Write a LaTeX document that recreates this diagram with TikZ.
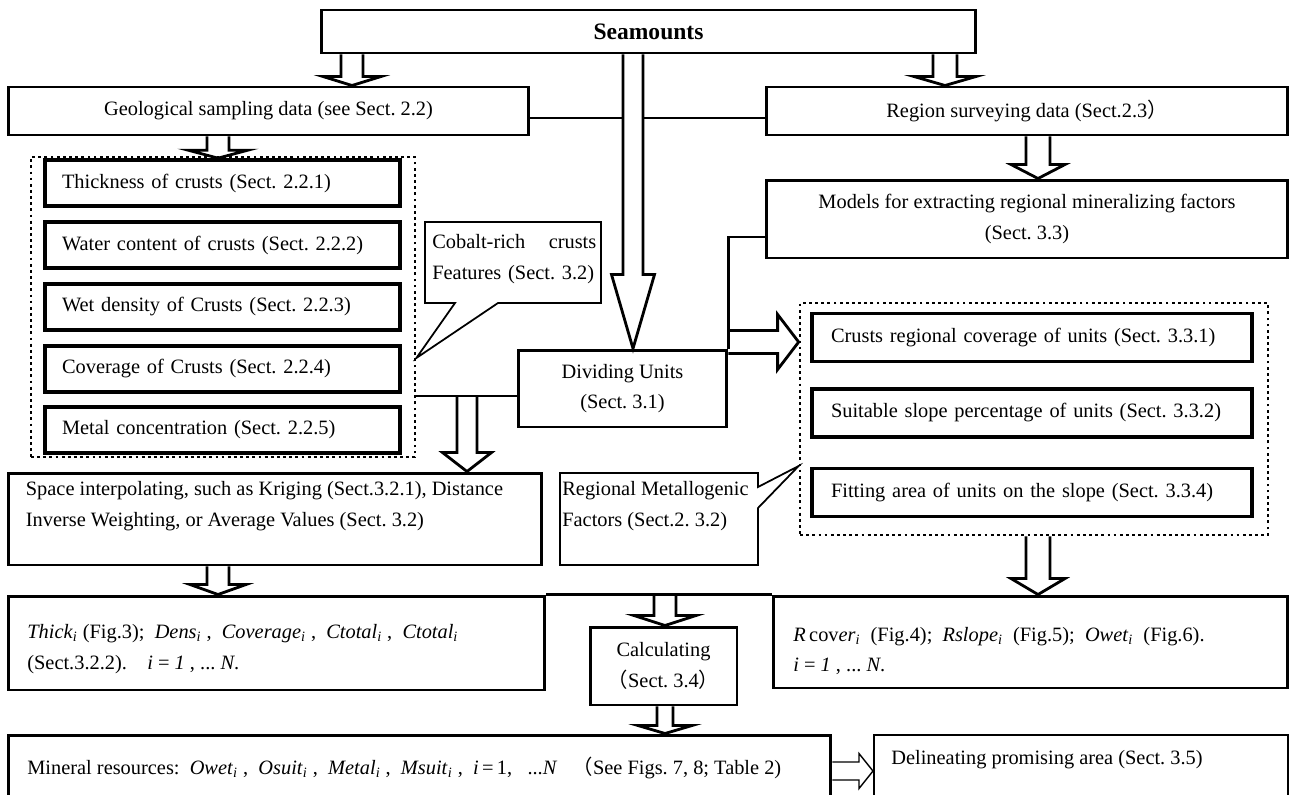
\documentclass[tikz,border=0pt]{standalone}
\usepackage{fontspec}
\setmainfont{Liberation Serif}
\newfontfamily\cjk{Noto Sans CJK SC}
\usetikzlibrary{calc,backgrounds}
\frenchspacing

\newcommand{\vsub}[2]{\textit{#1}\textsubscript{\textit{#2}}}
% hollow block arrows: start, tip, head length, shaft half width, head half width
\newcommand{\blockdown}[5]{%
  \draw[blockarrow] ($(#1)+(-#4,0)$) -- ($(#2)+(-#4,-#3)$) -- ($(#2)+(-#5,-#3)$)
    -- (#2) -- ($(#2)+(#5,-#3)$) -- ($(#2)+(#4,-#3)$) -- ($(#1)+(#4,0)$);}
\newcommand{\blockright}[6][]{%
  \draw[blockarrow,#1] ($(#2)+(0,-#5)$) -- ($(#3)+(-#4,-#5)$) -- ($(#3)+(-#4,-#6)$)
    -- (#3) -- ($(#3)+(-#4,#6)$) -- ($(#3)+(-#4,#5)$) -- ($(#2)+(0,#5)$);}

\tikzset{
  box/.style={draw, line width=1.7pt, inner sep=0pt},
  item/.style={draw, line width=2.1pt, inner sep=0pt, align=left,
    minimum width=7.1cm, minimum height=0.92cm, text width=6.42cm},
  ritem/.style={item, minimum width=8.8cm, minimum height=0.96cm, text width=8.04cm},
  dotgroup/.style={draw, line width=1.6pt, dash pattern=on 1.6pt off 1.9pt, inner sep=0pt},
  callout/.style={draw, line width=1pt, fill=white},
  conn/.style={line width=1.7pt},
  blockarrow/.style={draw, line width=1.6pt, fill=white},
  txt/.style={inner sep=0pt, align=left},
}

\begin{document}
\begin{tikzpicture}[x=0.02cm, y=-0.02cm, font=\fontsize{11.6}{17.5}\selectfont]
    \useasboundingbox (0,0) rectangle (1290,794);

    % columns and rows of the connectors
    \coordinate (xa) at (352,0);
    \coordinate (xb) at (945,0);
    \coordinate (xc) at (633,0);
    \coordinate (xd) at (218,0);
    \coordinate (xe) at (467,0);
    \coordinate (xf) at (1038,0);
    \coordinate (xg) at (665,0);
    \coordinate (yg) at (0,118);
    \coordinate (yv) at (0,237);
    \coordinate (yr) at (0,342);
    \coordinate (yc) at (0,358);
    \coordinate (yd) at (0,396);
    \coordinate (ym) at (0,771);

    % top
    \node[box, minimum width=13.1cm, minimum height=0.86cm] (seam) at (648.5,31.5)
        {\fontsize{13.4}{16}\selectfont\bfseries\raisebox{-2pt}{Seamounts}};
    \node[box, minimum width=10.42cm, minimum height=0.96cm] (geo) at (268.5,111)
        {Geological sampling data (see Sect. 2.2)};
    \node[box, minimum width=10.44cm, minimum height=0.96cm] (reg) at (1027,111)
        {Region surveying data (Sect.2.3{\cjk ）}};
    \node[box, align=center, minimum width=10.44cm, minimum height=1.56cm] (models) at (1027,219)
        {Models for extracting regional mineralizing factors\\(Sect. 3.3)};

    % sampling data
    \node[dotgroup, minimum width=7.68cm, minimum height=6cm] (ldot) at (223,307) {};
    \node[item] (i1) at (222.5,183) {Thickness of crusts (Sect. 2.2.1)};
    \node[item] (i2) at (222.5,245) {Water content of crusts (Sect. 2.2.2)};
    \node[item] (i3) at (222.5,307) {Wet density of Crusts (Sect. 2.2.3)};
    \node[item] (i4) at (222.5,369) {Coverage of Crusts (Sect. 2.2.4)};
    \node[item] (i5) at (222.5,430) {Metal concentration (Sect. 2.2.5)};

    \draw[callout] (425,222) -- (601,222) -- (601,303) -- (498,303) -- (ldot.east |- yc)
        -- (455,303) -- (425,303) -- cycle;
    \node[txt, text width=3.28cm, anchor=west] (cobtxt) at (432,259)
        {Cobalt-rich\hfill crusts\\Features (Sect. 3.2)};

    \node[box, align=center, minimum width=4.18cm, minimum height=1.54cm] (div) at (622.5,388.5)
        {Dividing Units\\(Sect. 3.1)};

    % regional factors
    \node[dotgroup, minimum width=9.36cm, minimum height=4.64cm] (rdot) at (1034,419) {};
    \node[ritem] (r1) at (1032,337.5) {Crusts regional coverage of units (Sect. 3.3.1)};
    \node[ritem] (r2) at (1032,413) {Suitable slope percentage of units (Sect. 3.3.2)};
    \node[ritem] (r3) at (1032,492.5) {Fitting area of units on the slope (Sect. 3.3.4)};

    \draw[callout] (560,473) -- (758,473) -- (758,487) -- (rdot.west |- 0,466) -- (758,508)
        -- (758,565) -- (560,565) -- cycle;
    \node[txt, anchor=west] (regtxt) at (562,506) {Regional Metallogenic\\Factors (Sect.2. 3.2)};

    \node[box, minimum width=10.68cm, minimum height=1.84cm] (interp) at (275,519) {};
    \node[txt, anchor=west] (interptxt) at ($(interp.west)+(19,-13)$)
        {Space interpolating, such as Kriging (Sect.3.2.1), Distance\\Inverse Weighting, or Average Values (Sect. 3.2)};

    % results
    \node[box, minimum width=10.74cm, minimum height=1.88cm] (thk) at (276.5,643) {};
    \node[txt, anchor=west] (thktxt) at (27,649)
        {\vsub{Thick}{i} (Fig.3);\ \ \vsub{Dens}{i} ,\ \ \vsub{Coverage}{i} ,\ \ \vsub{Ctotal}{i} ,\ \ \vsub{Ctotal}{i}\\
         (Sect.3.2.2).\quad \textit{i} = \textit{1} , ... \textit{N}.};
    \node[box, minimum width=10.3cm, minimum height=1.84cm] (rcov) at (1030.5,642) {};
    \node[txt, anchor=west] (rcovtxt) at (793,651)
        {\textit{R}\,cov\vsub{er}{i}\ \ (Fig.4);\ \ \vsub{Rslope}{i}\ \ (Fig.5);\ \ \vsub{Owet}{i}\ \ (Fig.6).\\
         \textit{i} = \textit{1} , ... \textit{N}.};
    \node[box, align=center, minimum width=2.94cm, minimum height=1.56cm] (calcu) at (663.5,666)
        {Calculating\\{\cjk （}Sect. 3.4{\cjk ）}};

    \node[box, minimum width=16.46cm, minimum height=1.4cm] (res) at (419.5,770) {};
    \node[txt, anchor=west] (restxt) at (27,768)
        {Mineral resources:\ \ \vsub{Owet}{i} ,\ \ \vsub{Osuit}{i} ,\ \ \vsub{Metal}{i} ,\ \ \vsub{Msuit}{i} ,\ \ \textit{i}\,=\,1,\ \ \ ...\textit{N}\ \ \ {\cjk （}See Figs. 7, 8; Table 2)};
    \node[box, line width=1.2pt, minimum width=8.28cm, minimum height=1.4cm] (delin) at (1081,770) {};
    \node[txt, anchor=west] (delintxt) at (891,760) {Delineating promising area (Sect. 3.5)};

    % plain connectors
    \draw[conn] (geo.east |- yg) -- ($(xc |- yg)+(-10,0)$);
    \draw[conn] ($(xc |- yg)+(10,0)$) -- (reg.west |- yg);
    \draw[conn] (div.north east) |- (models.west |- yv);
    \draw[conn] (ldot.east |- yd) -- (div.west |- yd);
    \draw[conn] (thk.north east) -- (rcov.north west);

    % block arrows
    \begin{pgfonlayer}{background}
    \blockdown{seam.south -| xa}{geo.north -| xa}{9}{11}{29}
    \blockdown{seam.south -| xb}{reg.north -| xb}{9}{12}{31}
    \blockdown{seam.south -| xc}{div.north -| xc}{74}{10}{21.5}
    \blockdown{geo.south -| xd}{i1.north -| xd}{8}{11}{30}
    \blockdown{reg.south -| xf}{models.north -| xf}{14}{12}{27}
    \blockdown{xe |- yd}{interp.north -| xe}{19}{10}{24.5}
    \blockdown{interp.south -| xd}{thk.north -| xd}{10}{11}{28}
    \blockdown{rdot.south -| xf}{rcov.north -| xf}{16}{12}{27}
    \blockdown{thk.north -| xg}{calcu.north -| xg}{10}{11}{31}
    \blockdown{calcu.south -| xg}{res.north -| xg}{8}{8}{27}
    \blockright{div.north east |- yr}{rdot.west |- yr}{21}{11.5}{27.5}
    \blockright[line width=0.8pt]{res.east |- ym}{delin.west |- ym}{14}{9}{17.5}
    \end{pgfonlayer}
\end{tikzpicture}
\end{document}
